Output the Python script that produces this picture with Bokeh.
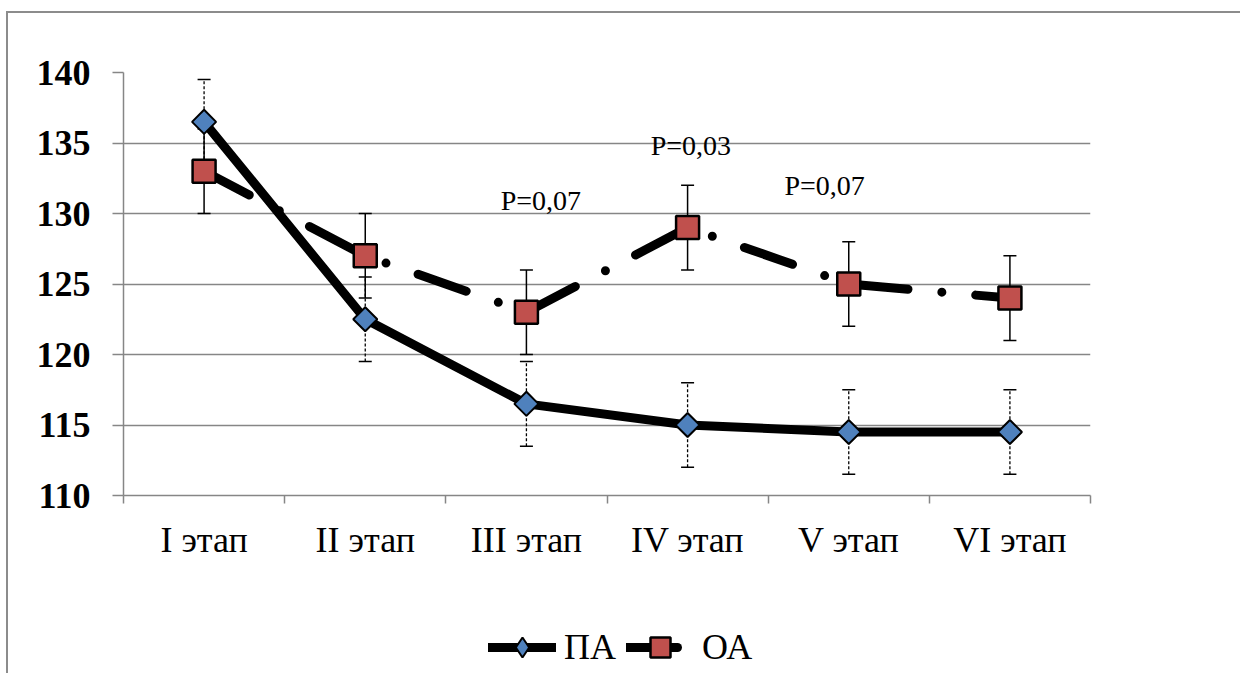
import math
from bokeh.plotting import figure
from bokeh.layouts import column
from bokeh.models import FixedTicker, Range1d, Legend, LegendItem, InlineStyleSheet
from bokeh.core.properties import value
from bokeh.embed import file_html
from bokeh.resources import INLINE

# ---- data ----
stages = ["I этап", "II этап", "III этап", "IV этап", "V этап", "VI этап"]
pa_values = [136.5, 122.5, 116.5, 115.0, 114.5, 114.5]
pa_errors = [3, 3, 3, 3, 3, 3]
oa_values = [133, 127, 123, 129, 125, 124]
oa_errors = [3, 3, 3, 3, 3, 3]
y_ticks = [110, 115, 120, 125, 130, 135, 140]
p_labels = ["P=0,07", "P=0,03", "P=0,07"]
p_label_x = [2.59, 3.52, 4.35]
p_label_y = [130.9, 134.8, 132.0]
series_names = ["ПА", "ОА"]

SERIF = "Liberation Serif"
GRID = "#868686"
PA_FILL = "#4F81BD"
OA_FILL = "#C0504D"

xs = [i + 0.5 for i in range(len(stages))]
pa_lo = [v - e for v, e in zip(pa_values, pa_errors)]
pa_hi = [v + e for v, e in zip(pa_values, pa_errors)]
oa_lo = [v - e for v, e in zip(oa_values, oa_errors)]
oa_hi = [v + e for v, e in zip(oa_values, oa_errors)]

p = figure(width=1240, height=617, output_backend="svg", toolbar_location=None,
           x_range=Range1d(0, len(stages)), y_range=Range1d(110, 140),
           min_border_left=123, min_border_right=150, min_border_top=72, min_border_bottom=122)
p.outline_line_color = None
p.background_fill_color = "white"
p.border_fill_color = "white"

# axes
p.xaxis.ticker = FixedTicker(ticks=xs, minor_ticks=list(range(len(stages) + 1)))
p.xaxis.major_label_overrides = {x: s for x, s in zip(xs, stages)}
p.xaxis.major_tick_out = 0
p.xaxis.major_tick_in = 0
p.xaxis.minor_tick_out = 8
p.xaxis.minor_tick_in = 0
p.xaxis.minor_tick_line_color = GRID
p.xaxis.minor_tick_line_width = 1.5
p.xaxis.axis_line_color = GRID
p.xaxis.axis_line_width = 1.5
p.xaxis.major_label_text_font = SERIF
p.xaxis.major_label_text_font_size = "36px"
p.xaxis.major_label_text_color = "black"
p.xaxis.major_label_standoff = 16

p.yaxis.ticker = FixedTicker(ticks=y_ticks, minor_ticks=[])
p.yaxis.major_tick_out = 11
p.yaxis.major_tick_in = 0
p.yaxis.major_tick_line_color = GRID
p.yaxis.major_tick_line_width = 1.5
p.yaxis.axis_line_color = GRID
p.yaxis.axis_line_width = 1.5
p.yaxis.major_label_text_font = SERIF
p.yaxis.major_label_text_font_style = "bold"
p.yaxis.major_label_text_font_size = "36px"
p.yaxis.major_label_text_color = "black"
p.yaxis.major_label_standoff = 22

p.xgrid.grid_line_color = None
p.ygrid.grid_line_color = GRID
p.ygrid.grid_line_width = 1.5

# lines
p.line(xs, pa_values, line_color="black", line_width=9, line_join="round", line_cap="round")
p.line(xs, oa_values, line_color="black", line_width=9, line_join="round",
       line_cap="round", line_dash="51 34 0 34")

# error bars
p.segment(x0=xs, y0=pa_lo, x1=xs, y1=pa_hi, line_color="black", line_width=1.3, line_dash="3 2")
p.scatter(xs + xs, pa_lo + pa_hi, marker="dash", size=13, line_color="black", line_width=1.5)
p.segment(x0=xs, y0=oa_lo, x1=xs, y1=oa_hi, line_color="black", line_width=1.5)
p.scatter(xs + xs, oa_lo + oa_hi, marker="dash", size=13, line_color="black", line_width=1.5)

# markers
p.scatter(xs, pa_values, marker="square", angle=math.pi / 4, size=17,
          fill_color=PA_FILL, line_color="black", line_width=2)
p.scatter(xs, oa_values, marker="square", size=23,
          fill_color=OA_FILL, line_color="black", line_width=2.5)

# p-value labels
p.text(x=p_label_x, y=p_label_y, text=p_labels, text_font=value(SERIF),
       text_font_size="28px", text_align="center", text_baseline="middle", text_color="black")

# ---- legend strip below the chart (series drawn out of view; only the legend shows) ----
lg = figure(width=1240, height=56, output_backend="svg", toolbar_location=None,
            x_range=Range1d(-10, -9), y_range=Range1d(0, 1),
            x_axis_type=None, y_axis_type=None,
            min_border_left=0, min_border_right=0, min_border_top=0, min_border_bottom=0)
lg.outline_line_color = None
lg.grid.grid_line_color = None
lg.background_fill_color = "white"
lg.border_fill_color = "white"

l_pa = lg.line(xs, pa_values, line_color="black", line_width=9, line_cap="round")
m_pa = lg.scatter(xs, pa_values, marker="diamond", fill_color=PA_FILL, line_color="black", line_width=2)
l_oa = lg.line(xs, oa_values, line_color="black", line_width=9, line_cap="round", line_dash="51 34 0 34")
m_oa = lg.scatter(xs, oa_values, marker="square", fill_color=OA_FILL, line_color="black", line_width=2.5)

legend = Legend(items=[LegendItem(label=series_names[0], renderers=[l_pa, m_pa]),
                       LegendItem(label=series_names[1], renderers=[l_oa, m_oa])],
                orientation="horizontal", location=(488 - 123, 1),
                glyph_width=68, glyph_height=50, label_height=50,
                label_text_font=SERIF, label_text_font_size="36px", label_text_color="black",
                label_standoff=8, spacing=10, padding=0, margin=0,
                border_line_color=None, background_fill_alpha=0)
lg.add_layout(legend, "center")

layout = column(p, lg, spacing=0)
# outer chart border (left and top edges visible in the picture)
layout.stylesheets = [InlineStyleSheet(css="""
:host::after {
  content: '';
  position: absolute;
  left: 6px; top: 11px; right: 0px; bottom: 0px;
  border-left: 2px solid #8c8c8c;
  border-top: 2px solid #8c8c8c;
  pointer-events: none;
  z-index: 100;
}
""")]

open("out.html", "w").write(file_html(layout, INLINE))
